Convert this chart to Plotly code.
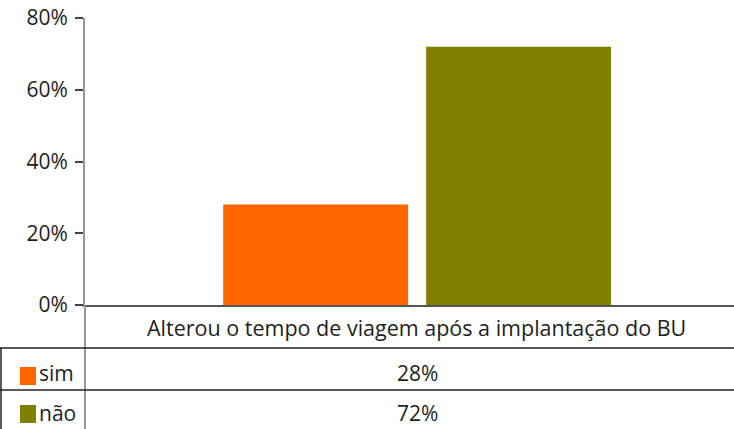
import plotly.graph_objects as go

category = ["Alterou o tempo de viagem após a implantação do BU"]
series_names = ["sim", "não"]
series_values = [[28], [72]]
series_colors = ["#FF6600", "#808000"]
y_ticks = [0, 20, 40, 60, 80]
y_tick_labels = [f"{v}%" for v in y_ticks]

FONT = "Open Sans"
TXT = "#1e1e1e"

W, H = 734, 429
ml, mr, mt, mb = 85, 0, 18, 124
pw, ph = W - ml - mr, H - mt - mb

def px(x):
    return (x - ml) / pw

def py(y):
    return (H - mb - y) / ph

fig = go.Figure()
for name, vals, col in zip(series_names, series_values, series_colors):
    fig.add_trace(go.Bar(x=category, y=vals, name=name, marker=dict(color=col, line=dict(width=0)),
                         showlegend=False))

fig.update_layout(
    width=W, height=H,
    margin=dict(l=ml, r=mr, t=mt, b=mb, autoexpand=False),
    paper_bgcolor="white", plot_bgcolor="white",
    barmode="group", bargap=0.389, bargroupgap=0.0887,
    font=dict(family=FONT, color=TXT, size=21),
    xaxis=dict(range=[-0.5, 0.477], showticklabels=False, showline=True, linecolor="#555555",
               linewidth=2, ticks="", showgrid=False, zeroline=False, automargin=False),
    yaxis=dict(range=[0, 80], tickvals=y_ticks, ticktext=y_tick_labels, showline=True,
               linecolor="#999999", linewidth=2, ticks="outside", ticklen=8, tickcolor="#444444",
               tickwidth=2, showgrid=False, zeroline=False, tickfont=dict(size=21, color=TXT),
               ticklabelstandoff=3, ticklabeloverflow="allow", automargin=False),
)

shapes = []
shapes.append(dict(type="line", xref="paper", yref="paper", x0=0, x1=0, y0=0, y1=py(H),
                   line=dict(color="#999999", width=2)))
for yy in [348, 390]:
    shapes.append(dict(type="line", xref="paper", yref="paper", x0=px(0), x1=1, y0=py(yy), y1=py(yy),
                       line=dict(color="#222222", width=1.5)))
shapes.append(dict(type="line", xref="paper", yref="paper", x0=px(1), x1=px(1), y0=py(348), y1=py(H),
                   line=dict(color="#222222", width=1.5)))
key_rows = [(367, 385), (405, 423)]
for (y0, y1), col in zip(key_rows, series_colors):
    shapes.append(dict(type="rect", xref="paper", yref="paper", x0=px(20), x1=px(36), y0=py(y1), y1=py(y0),
                       fillcolor=col, line=dict(width=0)))
fig.update_layout(shapes=shapes)

ann = [dict(text=category[0], xref="paper", yref="paper", x=px(416), y=py(327), showarrow=False,
            font=dict(size=21.5, color=TXT), xanchor="center", yanchor="middle")]
row_y = [373, 413]
for name, vals, yy in zip(series_names, series_values, row_y):
    ann.append(dict(text=name, xref="paper", yref="paper", x=px(37), y=py(yy), showarrow=False,
                    font=dict(size=21, color=TXT), xanchor="left", yanchor="middle"))
    ann.append(dict(text=f"{vals[0]}%", xref="paper", yref="paper", x=px(417), y=py(yy), showarrow=False,
                    font=dict(size=21, color=TXT), xanchor="center", yanchor="middle"))
fig.update_layout(annotations=ann)

fig.write_html("out.html", config={"displayModeBar": False},
               post_script="document.body.style.margin='0';document.body.style.overflow='hidden';")
